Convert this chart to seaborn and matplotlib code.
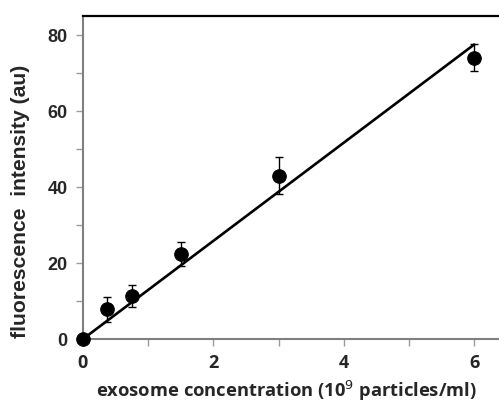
import matplotlib
matplotlib.use("Agg")
import matplotlib.pyplot as plt
import seaborn as sns
import pandas as pd

# data
concentration = [0.0, 0.375, 0.75, 1.5, 3.0, 6.0]
intensity = [0.0, 7.8, 11.3, 22.3, 43.0, 74.0]
intensity_err = [0.0, 3.2, 3.0, 3.2, 4.8, 3.6]
fit_x = [0.0, 6.0]
fit_y = [0.0, 77.5]
x_ticks = [0, 2, 4, 6]
y_ticks = [0, 20, 40, 60, 80]

sns.set_theme(style="white")
plt.rcParams['font.family'] = ['Liberation Sans', 'DejaVu Sans']

fig = plt.figure(figsize=(4.99, 4.03), dpi=100)
ax = fig.add_axes([83/499, (403-339)/403, 1 - 83/499, (339-16)/403])

df = pd.DataFrame({"x": concentration, "y": intensity, "err": intensity_err})
fit = pd.DataFrame({"x": fit_x, "y": fit_y})

sns.lineplot(data=fit, x="x", y="y", ax=ax, color="black", linewidth=1.9, clip_on=False, zorder=3)
ax.errorbar(df["x"], df["y"], yerr=df["err"], fmt="none", ecolor="black",
            elinewidth=1.0, capsize=3, capthick=1.0, clip_on=False, zorder=2)
sns.scatterplot(data=df, x="x", y="y", ax=ax, color="black", s=95, edgecolor="black",
                clip_on=False, zorder=4)

ax.set_xlim(0, 6.38)
ax.set_ylim(0, 85)
ax.set_xticks(x_ticks)
ax.set_yticks(y_ticks)
ax.set_xticks([1, 3, 5], minor=True)
ax.set_yticks([10, 30, 50, 70], minor=True)

for side in ["left", "bottom"]:
    ax.spines[side].set_color("#7f7f7f")
    ax.spines[side].set_linewidth(1.5)
ax.spines["top"].set_color("black")
ax.spines["top"].set_linewidth(1.6)
ax.spines["right"].set_visible(False)

ax.tick_params(axis="both", which="both", direction="out", color="#9a9a9a",
               length=5, width=1, bottom=True, left=True)
ax.tick_params(axis="both", which="major", pad=6)

for lab in ax.get_yticklabels():
    lab.set_fontweight("bold")
    lab.set_fontsize(13)
    lab.set_family(["Liberation Sans", "DejaVu Sans"])
for lab in ax.get_xticklabels():
    lab.set_fontweight("bold")
    lab.set_fontsize(13)
    lab.set_family(["Open Sans", "DejaVu Sans"])

ax.set_ylabel("fluorescence  intensity (au)", fontsize=15.2, fontweight="bold",
              family=["Liberation Sans", "DejaVu Sans"])
ax.set_xlabel("exosome concentration (10$^{9}$ particles/ml)", fontsize=13.2,
              fontweight="bold", family=["Open Sans", "DejaVu Sans"])
ax.yaxis.set_label_coords(-0.128, 0.427)
ax.xaxis.set_label_coords(0.49, -0.125)

fig.savefig("out.png", dpi=100)
